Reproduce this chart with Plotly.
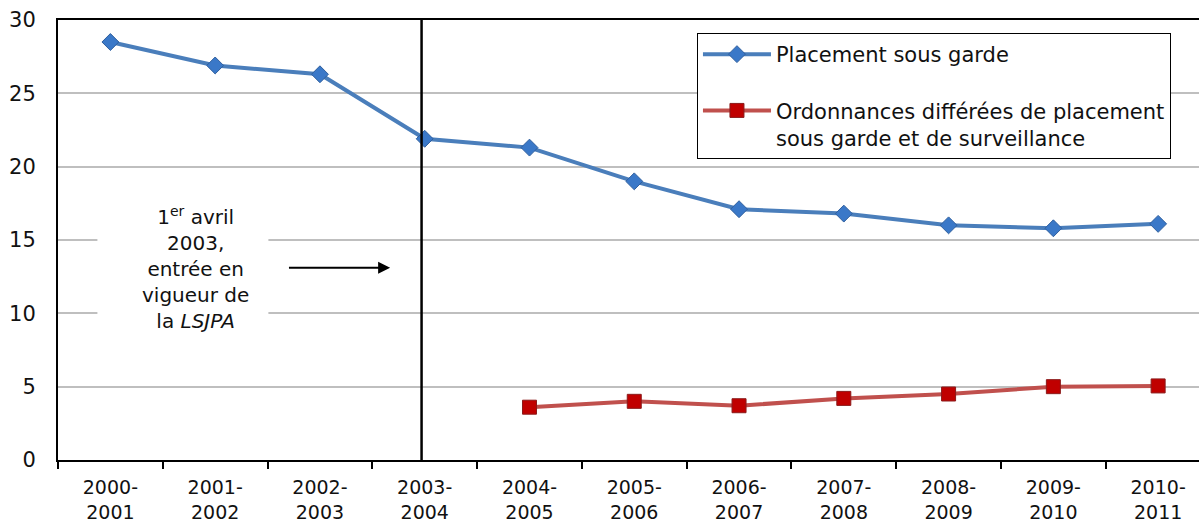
import plotly.graph_objects as go

categories = ["2000-<br>2001", "2001-<br>2002", "2002-<br>2003", "2003-<br>2004",
              "2004-<br>2005", "2005-<br>2006", "2006-<br>2007", "2007-<br>2008",
              "2008-<br>2009", "2009-<br>2010", "2010-<br>2011"]
placement = [28.5, 26.9, 26.3, 21.9, 21.3, 19.0, 17.1, 16.8, 16.0, 15.8, 16.1]
ordonnances = [None, None, None, None, 3.6, 4.0, 3.7, 4.2, 4.5, 5.0, 5.05]
y_ticks = [0, 5, 10, 15, 20, 25, 30]

FONT = "DejaVu Sans"

fig = go.Figure()
fig.add_trace(go.Scatter(
    x=categories, y=placement, mode="lines+markers",
    name="Placement sous garde", legendgroup="a",
    line=dict(color="#4A7EBB", width=4),
    marker=dict(symbol="diamond", size=13, color="#3A78C8",
                line=dict(color="#2F5F9E", width=1)),
))
fig.add_trace(go.Scatter(
    x=categories, y=ordonnances, mode="lines+markers",
    name="Ordonnances différées de placement<br>sous garde et de surveillance",
    legendgroup="b",
    line=dict(color="#C0504D", width=4),
    marker=dict(symbol="square", size=14, color="#C00000",
                line=dict(color="#8B1A1A", width=1)),
))

# vertical reference line (1 April 2003)
fig.add_shape(type="line", xref="x", yref="y", x0=2.97, x1=2.97, y0=0, y1=30,
              line=dict(color="black", width=2.5))

# white box behind the note (hides gridlines)
fig.add_shape(type="rect", xref="x", yref="y", x0=-0.124, x1=1.508, y0=8.9, y1=17.4,
              fillcolor="white", line=dict(width=0), layer="between")

# text annotation
fig.add_annotation(
    x=0.81, y=13.1, xref="x", yref="y", showarrow=False,
    text="1<sup>er</sup> avril<br>2003,<br>entrée en<br>vigueur de<br>la <i>LSJPA</i>",
    font=dict(family=FONT, size=20, color="#111111"),
    align="center",
)
# arrow
fig.add_annotation(
    x=2.67, y=13.1, ax=1.69, ay=13.1, xref="x", yref="y", axref="x", ayref="y",
    text="", showarrow=True, arrowhead=2, arrowsize=1.2, arrowwidth=2,
    arrowcolor="black",
)

fig.update_layout(
    width=1199, height=522,
    margin=dict(l=58, r=0, t=20, b=62),
    paper_bgcolor="white", plot_bgcolor="white",
    font=dict(family=FONT, size=21, color="#111111"),
    showlegend=True,
    legend=dict(
        x=0.56, y=0.9705, xanchor="left", yanchor="top",
        bordercolor="black", borderwidth=1, bgcolor="white",
        font=dict(family=FONT, size=21, color="#111111"),
        tracegroupgap=26, valign="top", itemwidth=68,
    ),
)
fig.update_xaxes(
    type="category", range=[-0.5, 10.39], automargin=False,
    showline=True, linecolor="black", linewidth=2, mirror=True,
    ticks="outside", tickson="boundaries", ticklen=7, tickwidth=1.5, tickcolor="black",
    showgrid=False, ticklabelstandoff=9,
    tickfont=dict(family=FONT, size=19, color="#111111"),
)
fig.update_yaxes(
    range=[0, 30], tickvals=y_ticks, automargin=False,
    showline=True, linecolor="black", linewidth=2,
    showgrid=True, gridcolor="#BFBFBF", gridwidth=1.5,
    ticks="", ticklabelstandoff=16, zeroline=False,
    tickfont=dict(family=FONT, size=21, color="#111111"),
)

fig.write_html("out.html", config={"displayModeBar": False},
               post_script="document.body.style.margin='0px';document.body.style.overflow='hidden';")
